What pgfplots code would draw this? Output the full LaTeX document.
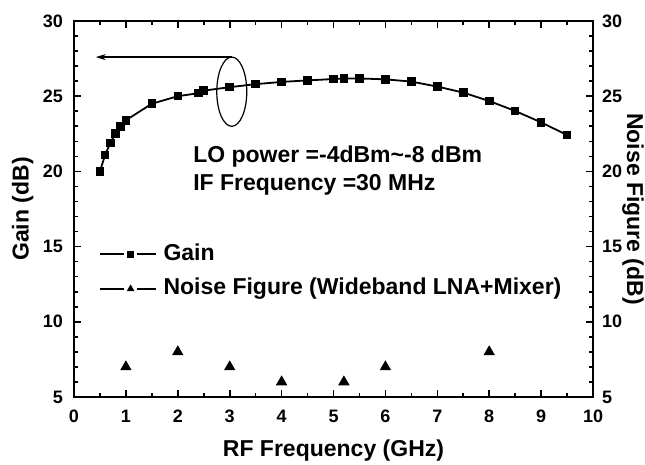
\documentclass[border=0pt]{standalone}
\usepackage{fontspec}
\setmainfont{Liberation Sans}
\usepackage{pgfplots}
\pgfplotsset{compat=1.18}
\usetikzlibrary{arrows.meta}
\begin{document}
\begin{tikzpicture}
\pgfplotsset{
  common/.style={
    width=259.5pt, height=188pt, scale only axis,
    xmin=0, xmax=10, ymin=5, ymax=30,
    /pgf/number format/assume math mode=true,
    tick label style={font=\bfseries\fontsize{9}{10}\selectfont},
    label style={font=\bfseries\fontsize{11.5}{13}\selectfont},
    axis line style={line width=1pt},
    tick style={line width=0.8pt, black},
    major tick length=3.5pt, minor tick length=2pt,
    tick align=inside,
  }
}
\begin{axis}[common,
  name=ax,
  xtick={0,1,...,10}, minor x tick num=1,
  ytick={5,10,...,30}, minor y tick num=4,
  ytick pos=left, xtick pos=both,
  xticklabel style={yshift=-3pt},
  yticklabel style={xshift=-2pt},
  xlabel={RF Frequency (GHz)}, ylabel={Gain (dB)},
  xlabel style={at={(axis description cs:0.5,-0.157)}, anchor=base},
  ylabel style={at={(axis description cs:-0.099,0.5)}, anchor=center},
  legend style={at={(axis cs:0.48,15.25)}, anchor=north west, draw=none, fill=none,
    inner sep=0pt, row sep=6.3pt,
    font=\bfseries\fontsize{11.5}{13}\selectfont,
    nodes={inner sep=0pt, text height=8.5pt, text depth=2.5pt},
    /tikz/every odd column/.append style={column sep=3.3pt}},
  legend cell align=left,
]
\addplot[black, line width=0.9pt, mark=square*, mark size=1.7pt,
  legend image code/.code={
    \draw[line width=0.8pt] (0pt,0pt) -- (12pt,0pt);
    \draw[line width=0.8pt] (18.5pt,0pt) -- (28pt,0pt);
    \draw[mark=square*, mark size=1.4pt] plot coordinates {(15.25pt,0pt)};
  }] coordinates {
(0.5,20.0)(0.6,21.1)(0.7,21.9)(0.8,22.5)(0.9,23.0)(1.0,23.4)(1.5,24.5)(2.0,25.0)
(2.4,25.2)(2.5,25.37)(3.0,25.6)(3.5,25.8)(4.0,25.95)(4.5,26.05)(5.0,26.14)(5.2,26.17)
(5.5,26.18)(6.0,26.12)(6.5,25.97)(7.0,25.64)(7.5,25.24)(8.0,24.68)(8.5,24.02)(9.0,23.26)(9.5,22.42)
};
\addlegendentry{Gain}
\addplot[black, only marks, mark=triangle*, mark size=2.9pt,
  legend image code/.code={
    \draw[line width=0.8pt] (0pt,0pt) -- (12pt,0pt);
    \draw[line width=0.8pt] (18.5pt,0pt) -- (28pt,0pt);
    \draw[mark=triangle*, mark size=1.8pt] plot coordinates {(15.25pt,0pt)};
  }] coordinates {
(1,7)(2,8)(3,7)(4,6)(5.2,6)(6,7)(8,8)
};
\addlegendentry{Noise Figure (Wideband LNA+Mixer)}
\draw[line width=0.6pt] (axis cs:3.04,25.3) ellipse [x radius=7.5pt, y radius=17.3pt];
\draw[line width=0.6pt, -{Stealth[length=5pt,width=3pt]}] (axis cs:3.04,27.6) -- (axis cs:0.42,27.6);
\node[anchor=base west, inner sep=0pt, font=\bfseries\fontsize{11.5}{13}\selectfont] at (axis cs:2.29,20.6) {LO power =-4dBm\textasciitilde-8 dBm};
\node[anchor=base west, inner sep=0pt, font=\bfseries\fontsize{11.5}{13}\selectfont] at (axis cs:2.29,18.76) {IF Frequency =30 MHz};
\end{axis}
\begin{axis}[common,
  axis x line=none, axis y line*=right,
  ytick={5,10,...,30}, minor y tick num=4,
  yticklabel style={xshift=1pt},
  ylabel={Noise Figure (dB)},
  ylabel style={at={(axis description cs:1.077,0.5)}, anchor=center, rotate=180},
]
\addplot[draw=none] coordinates {(0,5)};
\end{axis}
\pgfresetboundingbox
\path ([shift={(-37pt,-33.5pt)}]ax.south west) rectangle ([shift={(26pt,10.5pt)}]ax.north east);
\end{tikzpicture}
\end{document}
